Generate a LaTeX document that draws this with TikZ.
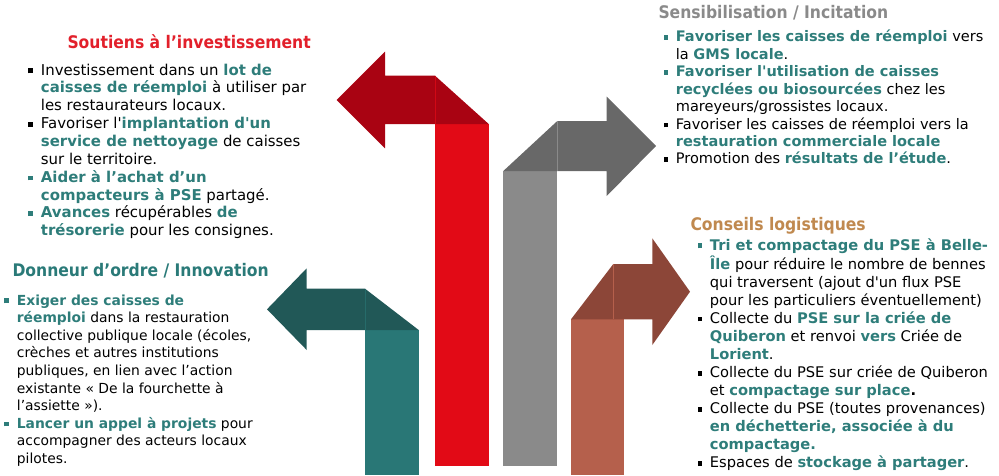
\documentclass[tikz,border=0pt]{standalone}
\usepackage{fontspec}
\setmainfont{DejaVu Sans}
\newfontfamily\titlefont{DejaVu Sans Condensed}
\usetikzlibrary{positioning}

\definecolor{redDark}{RGB}{169,3,18}
\definecolor{redStem}{RGB}{226,10,22}
\definecolor{grayDark}{RGB}{104,104,104}
\definecolor{grayStem}{RGB}{138,138,138}
\definecolor{tealDark}{RGB}{33,88,87}
\definecolor{tealStem}{RGB}{41,119,118}
\definecolor{brownDark}{RGB}{140,70,56}
\definecolor{brownStem}{RGB}{181,96,76}
\definecolor{hlteal}{RGB}{46,125,122}
\definecolor{titleRed}{RGB}{226,32,43}
\definecolor{titleTeal}{RGB}{42,122,120}
\definecolor{titleGray}{RGB}{138,138,138}
\definecolor{titleOrange}{RGB}{192,137,79}

\newcommand{\hl}[1]{\textcolor{hlteal}{\textbf{#1}}}
\newcommand{\bk}{\makebox[9.3pt][l]{\rule[1.3pt]{3.6pt}{3.6pt}}}
\newcommand{\bt}{\makebox[9.3pt][l]{\textcolor{hlteal}{\rule[1.3pt]{3.6pt}{3.6pt}}}}
\newcommand{\sq}{\textquotesingle}

\tikzset{every picture/.style={line width=0.75pt}}
\tikzset{
  titletxt/.style={anchor=base west, inner sep=0pt, font=\titlefont\bfseries\fontsize{13}{15}\selectfont},
  listtxt/.style={anchor=base west, inner sep=0pt, align=left},
  seam/.style={line width=0.5pt}
}

\begin{document}
\begin{tikzpicture}[x=0.75pt,y=0.75pt,yscale=-1,xscale=1]
\path[use as bounding box] (0,0) rectangle (999,475);

%Shape: red stem
\fill[redStem] (435,124) rectangle (488.7,466);
%Shape: red arrow
\fill[redDark] (435,75.7) -- (385,75.7) -- (385,51.7) -- (336.7,100) -- (385,148.3) -- (385,124) -- (488.7,124) -- cycle;
\draw[seam, color=redStem!70!redDark] (435,75.7) -- (435,124);

%Shape: gray stem
\fill[grayStem] (503.3,171) rectangle (557.3,466);
%Shape: gray arrow
\fill[grayDark] (503.3,171) -- (557.3,121) -- (606.7,121) -- (606.7,96.7) -- (656,146) -- (606.7,196) -- (606.7,171) -- cycle;
\draw[seam, color=grayStem] (557.3,121) -- (557.3,171);

%Shape: teal stem
\fill[tealStem] (365,330) rectangle (418.7,475);
%Shape: teal arrow
\fill[tealDark] (418.7,330) -- (365,288.7) -- (306.7,288.7) -- (306.7,268.3) -- (267,309.3) -- (306.7,350) -- (306.7,330) -- cycle;
\draw[seam, color=tealStem!60!tealDark] (365,288.7) -- (365,330);

%Shape: brown stem
\fill[brownStem] (571,319.3) rectangle (624,475);
%Shape: brown arrow
\fill[brownDark] (571,319.3) -- (613.3,264) -- (652.3,264) -- (652.3,238.3) -- (690,291.7) -- (652.3,345) -- (652.3,319.3) -- cycle;
\draw[seam, color=brownStem] (613.3,264) -- (613.3,319.3);

% Text Node
\draw (67,48) node [titletxt, text=titleRed] (soutiensT) {Soutiens à l’investissement};
% Text Node
\draw (28,75) node [listtxt, font=\fontsize{11.2}{13.4}\selectfont] (soutiens) {%
\begin{tabular}[t]{@{}l@{}l@{}}
\bk & Investissement dans un \hl{lot de}\\
 & \hl{caisses de réemploi} à utiliser par\\
 & les restaurateurs locaux.\\
\bk & Favoriser l\sq\hl{implantation d\sq un}\\
 & \hl{service de nettoyage} de caisses\\
 & sur le territoire.\\
\bt & \hl{Aider à l’achat d’un}\\
 & \hl{compacteurs à PSE} partagé.\\
\bt & \hl{Avances} récupérables \hl{de}\\
 & \hl{trésorerie} pour les consignes.
\end{tabular}};

% Text Node
\draw (12,276.7) node [titletxt, text=titleTeal] (donneurT) {Donneur d’ordre / Innovation};
% Text Node
\draw (4,305) node [listtxt, font=\fontsize{10.4}{13.2}\selectfont] (donneur) {%
\begin{tabular}[t]{@{}l@{}l@{}}
\bt & \hl{Exiger des caisses de}\\
 & \hl{réemploi} dans la restauration\\
 & collective publique locale (écoles,\\
 & crèches et autres institutions\\
 & publiques, en lien avec l’action\\
 & existante « De la fourchette à\\
 & l’assiette »).\\
\bt & \hl{Lancer un appel à projets} pour\\
 & accompagner des acteurs locaux\\
 & pilotes.
\end{tabular}};

% Text Node
\draw (658,18.5) node [titletxt, text=titleGray] (sensibT) {Sensibilisation / Incitation};
% Text Node
\draw (663,41.7) node [listtxt, font=\fontsize{10.9}{13.1}\selectfont] (sensib) {%
\begin{tabular}[t]{@{}l@{}l@{}}
\bt & \hl{Favoriser les caisses de réemploi} vers\\
 & la \hl{GMS locale}.\\
\bt & \hl{Favoriser l\sq utilisation de caisses}\\
 & \hl{recyclées ou biosourcées} chez les\\
 & mareyeurs/grossistes locaux.\\
\bk & Favoriser les caisses de réemploi vers la\\
 & \hl{restauration commerciale locale}\\
\bk & Promotion des \hl{résultats de l’étude}.
\end{tabular}};

% Text Node
\draw (690,230) node [titletxt, text=titleOrange] (conseilsT) {Conseils logistiques};
% Text Node
\draw (697,250) node [listtxt, font=\fontsize{11}{13.55}\selectfont] (conseils) {%
\begin{tabular}[t]{@{}l@{}l@{}}
\bt & \hl{Tri et compactage du PSE à Belle-}\\
 & \hl{Île} pour réduire le nombre de bennes\\
 & qui traversent (ajout d\sq un flux PSE\\
 & pour les particuliers éventuellement)\\
\bk & Collecte du \hl{PSE sur la criée de}\\
 & \hl{Quiberon} et renvoi \hl{vers} Criée de\\
 & \hl{Lorient}.\\
\bk & Collecte du PSE sur criée de Quiberon\\
 & et \hl{compactage sur place}\textbf{.}\\
\bk & Collecte du PSE (toutes provenances)\\
 & \hl{en déchetterie, associée à du}\\
 & \hl{compactage.}\\
\bk & Espaces de \hl{stockage à partager}.
\end{tabular}};

\end{tikzpicture}
\end{document}
